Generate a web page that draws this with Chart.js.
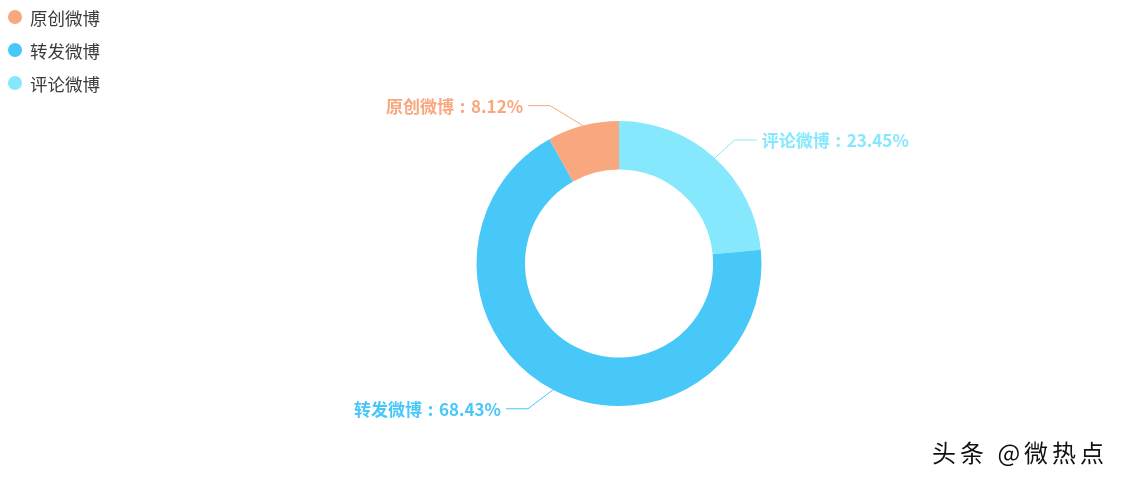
<!DOCTYPE html>
<html>
<head>
<meta charset="utf-8">
<script src="https://cdn.jsdelivr.net/npm/chart.js@4"></script>
<style>
	html, body { margin: 0; padding: 0; background: #fff; }
	#wrap { width: 1125px; height: 480px; position: relative; }
</style>
</head>
<body>
<div id="wrap"><canvas id="chart-weibo" width="1125" height="480"></canvas></div>
<script>
// Werte aus der Vorlage
var categories = ["原创微博", "转发微博", "评论微博"];
var shares = [8.12, 68.43, 23.45];
var colors = ["#F9A77E", "#47C8F9", "#86E8FC"];

// Vorlage läuft gegen den Uhrzeigersinn, Chart.js im Uhrzeigersinn -> umdrehen
var order = [2, 1, 0];

// Führungslinien: erster Knick relativ zum Rand, dann waagrechtes Stück
var labelBend = { "原创微博": [-33, -20], "转发微博": [-25, 19], "评论微博": [20, -18] };
var labelLen2 = 22;

var FONT = "'Noto Sans CJK SC', 'Noto Sans', sans-serif";

var outerLabels = {
	id: "outerLabels",
	afterDatasetsDraw: function(chart)
	{
		var ctx = chart.ctx;
		var meta = chart.getDatasetMeta(0);
		ctx.save();
		meta.data.forEach(function(arc, i)
		{
			var idx = order[i];
			var mid = (arc.startAngle + arc.endAngle) / 2;
			var sx = arc.x + Math.cos(mid) * arc.outerRadius;
			var sy = arc.y + Math.sin(mid) * arc.outerRadius;
			var bend = labelBend[categories[idx]];
			var bx = sx + bend[0];
			var by = sy + bend[1];
			var dir = bend[0] < 0 ? -1 : 1;
			var ex = bx + dir * labelLen2;

			ctx.strokeStyle = colors[idx];
			ctx.lineWidth = 1;
			ctx.beginPath();
			ctx.moveTo(sx, sy);
			ctx.lineTo(bx, by);
			ctx.lineTo(ex, by);
			ctx.stroke();

			// Doppelpunkt mittig wie in der Vorlage
			var name = categories[idx];
			var val = shares[idx].toFixed(2) + "%";
			ctx.fillStyle = colors[idx];
			ctx.font = "bold 17px " + FONT;
			ctx.textBaseline = "middle";
			ctx.textAlign = "left";
			var wName = ctx.measureText(name).width;
			var wColon = 17;
			var wVal = ctx.measureText(val).width;
			var total = wName + wColon + wVal;
			var x0 = dir < 0 ? ex - 5 - total : ex + 5;
			ctx.fillText(name, x0, by + 1);
			ctx.fillText(":", x0 + wName + wColon / 2 - ctx.measureText(":").width / 2, by + 1);
			ctx.fillText(val, x0 + wName + wColon, by + 1);
		});
		ctx.restore();
	}
};

var sideLegend = {
	id: "sideLegend",
	afterDraw: function(chart)
	{
		var ctx = chart.ctx;
		ctx.save();
		categories.forEach(function(name, i)
		{
			var y = 17 + i * 33;
			ctx.fillStyle = colors[i];
			ctx.beginPath();
			ctx.arc(15, y, 7, 0, Math.PI * 2);
			ctx.fill();
			ctx.fillStyle = "#3a3a3a";
			ctx.font = "17.5px " + FONT;
			ctx.textBaseline = "middle";
			ctx.textAlign = "left";
			ctx.fillText(name, 30, y + 1);
		});

		// Wasserzeichen
		ctx.font = "24px " + FONT;
		ctx.letterSpacing = "4px";
		ctx.textAlign = "left";
		ctx.fillStyle = "#111";
		ctx.fillText("头条 @微热点", 932, 453);
		ctx.restore();
	}
};

new Chart("chart-weibo", {
	type: "doughnut",
	data: {
		labels: order.map(function(i) { return categories[i]; }),
		datasets: [{
			data: order.map(function(i) { return shares[i]; }),
			backgroundColor: order.map(function(i) { return colors[i]; }),
			borderWidth: 0,
			hoverOffset: 0
		}]
	},
	options: {
		responsive: false,
		animation: false,
		cutout: "66%",
		layout: { padding: { left: 319, right: 206, top: 121, bottom: 74 } },
		plugins: {
			legend: { display: false },
			tooltip: { enabled: false }
		},
		events: []
	},
	plugins: [outerLabels, sideLegend]
});
</script>
</body>
</html>
